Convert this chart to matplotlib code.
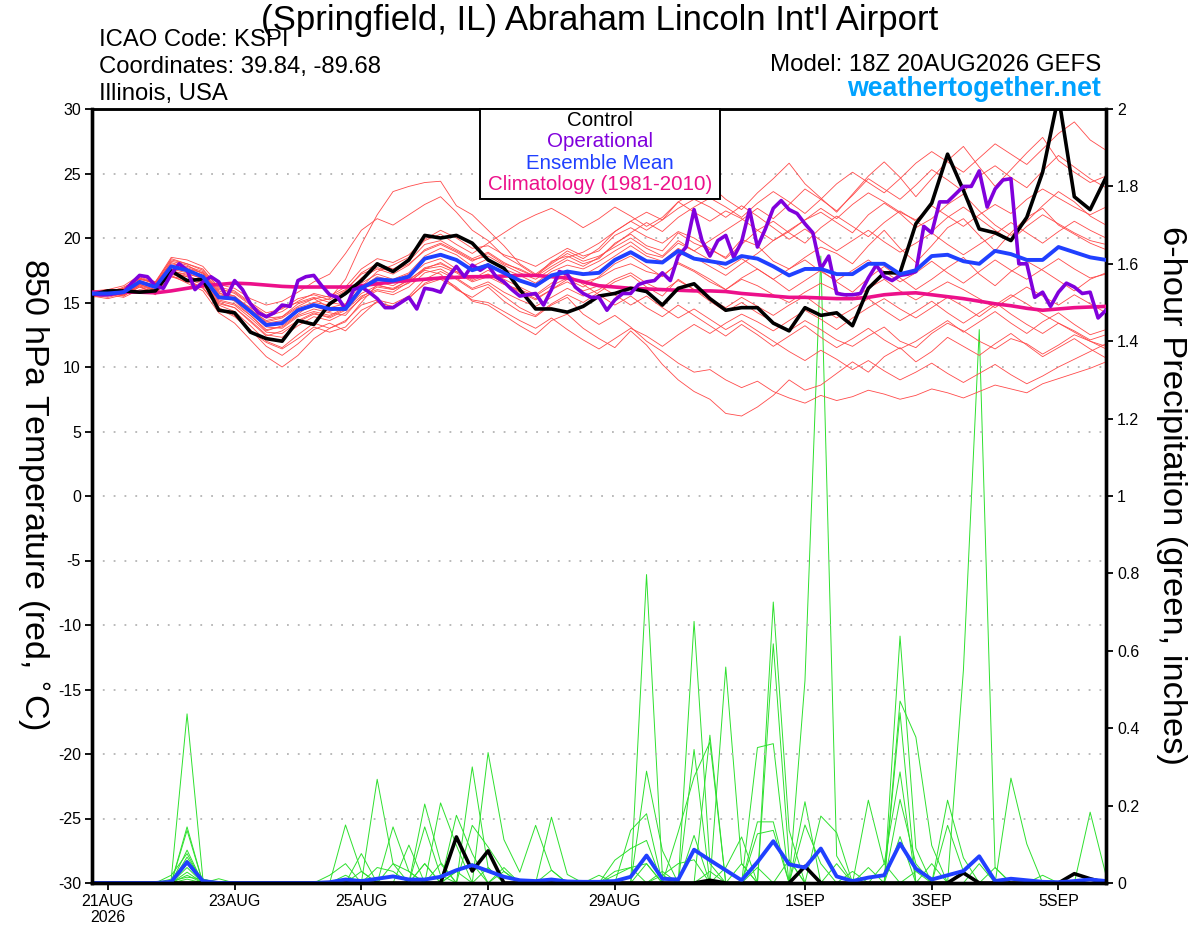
import numpy as np
import matplotlib.pyplot as plt
from matplotlib.patches import Rectangle

plt.rcParams['font.family'] = ['Liberation Sans', 'DejaVu Sans']
plt.rcParams['axes.unicode_minus'] = False

################################################
#           donnees                            #
################################################

# forecast hours from 18Z 20AUG2026 (6-hourly ensemble, 3-hourly operational)
hours = np.arange(65) * 6
op_hours = np.arange(129) * 3

tick_hours = [6, 54, 102, 150, 198, 270, 318, 366]
tick_labels = ['21AUG\n2026', '23AUG', '25AUG', '27AUG', '29AUG', '1SEP', '3SEP', '5SEP']

control_t = [15.6, 15.9, 15.9, 15.8, 15.9, 17.45, 16.7, 16.8, 14.4, 14.2, 12.7, 12.2, 12.0,
             13.6, 13.3, 14.9, 15.7, 16.7, 18.0, 17.4, 18.3, 20.2, 20.0, 20.2, 19.6, 18.3,
             17.65, 16.0, 14.5, 14.5, 14.25, 14.7, 15.5, 15.7, 16.1, 15.85, 14.8, 16.1, 16.45,
             15.3, 14.4, 14.6, 14.6, 13.4, 12.8, 14.6, 14.0, 14.2, 13.2, 16.1, 17.3, 17.3,
             21.1, 22.7, 26.5, 23.7, 20.7, 20.4, 19.8, 21.6, 25.1, 31.0, 23.2, 22.2, 24.7]

mean_t = [15.7, 15.7, 15.8, 16.6, 16.2, 17.8, 17.5, 17.0, 15.4, 15.3, 14.3, 13.25, 13.4,
          14.4, 14.8, 14.5, 14.5, 16.1, 16.8, 16.7, 17.0, 18.4, 18.7, 18.3, 17.5, 17.9,
          17.3, 16.7, 16.3, 17.1, 17.4, 17.2, 17.3, 18.3, 18.9, 18.2, 18.1, 19.0, 18.4,
          18.2, 18.0, 18.6, 18.4, 17.8, 17.1, 17.6, 17.6, 17.2, 17.2, 18.0, 18.0, 17.2,
          17.5, 18.6, 18.7, 18.2, 18.0, 19.0, 18.75, 18.3, 18.3, 19.3, 18.9, 18.5, 18.3]

clim_t = [15.8, 15.8, 15.8, 15.8, 15.75, 15.9, 16.1, 16.3, 16.4, 16.5, 16.45, 16.35, 16.25,
          16.2, 16.2, 16.2, 16.2, 16.3, 16.45, 16.6, 16.7, 16.8, 16.9, 16.95, 17.0, 17.0,
          17.05, 17.1, 17.1, 17.0, 16.9, 16.6, 16.3, 16.2, 16.1, 16.05, 16.0, 15.95, 15.9,
          15.9, 15.85, 15.7, 15.6, 15.5, 15.4, 15.4, 15.35, 15.3, 15.3, 15.4, 15.6, 15.7,
          15.75, 15.6, 15.45, 15.3, 15.1, 14.9, 14.75, 14.55, 14.4, 14.5, 14.6, 14.65, 14.7]

oper_t = [15.7, 15.6, 15.6, 15.7, 15.8, 16.5, 17.1, 17.0, 16.3, 16.1, 17.2, 18.0, 17.5,
          16.0, 16.6, 17.0, 16.6, 15.4, 16.7, 16.0, 14.9, 14.2, 13.9, 14.2, 14.8, 14.7,
          16.7, 17.0, 17.1, 16.3, 15.6, 15.4, 14.5, 16.0, 16.2, 15.8, 15.3, 14.6, 14.6,
          15.0, 15.4, 14.5, 16.1, 16.0, 15.8, 17.0, 17.8, 17.0, 17.9, 17.5, 17.9, 17.0,
          16.6, 16.0, 15.5, 15.6, 15.7, 14.8, 16.0, 17.4, 17.2, 16.2, 15.7, 15.4, 15.4,
          14.4, 15.2, 15.7, 15.7, 16.4, 16.6, 16.7, 17.3, 16.7, 18.6, 19.3, 22.2, 19.8,
          18.6, 19.8, 20.2, 18.5, 19.7, 22.2, 19.3, 20.7, 22.3, 22.9, 22.2, 21.9, 21.1,
          20.4, 17.6, 18.6, 15.7, 15.6, 15.6, 15.7, 16.9, 17.9, 17.0, 16.7, 17.1, 17.2,
          17.4, 20.9, 20.4, 22.8, 22.8, 23.4, 24.0, 24.0, 25.2, 22.4, 23.8, 24.5, 24.6,
          18.0, 18.0, 15.4, 15.8, 14.7, 15.8, 16.5, 16.2, 15.7, 15.8, 13.8, 14.4]

members_t = [
    [15.9, 15.6, 16.0, 16.9, 16.4, 18.2, 17.9, 17.2, 15.8, 15.1, 14.0, 12.8, 13.2,
     14.1, 15.0, 15.3, 16.8, 19.5, 21.8, 23.6, 24.0, 24.3, 24.4, 22.5, 21.8, 20.6,
     19.4, 18.0, 17.2, 18.1, 19.0, 18.4, 19.2, 20.5, 21.3, 22.0, 21.4, 22.8, 23.5,
     24.1, 23.0, 22.2, 23.5, 24.6, 25.8, 24.2, 23.1, 22.0, 23.4, 24.8, 25.9, 24.7,
     23.2, 24.6, 26.0, 27.1, 25.5, 24.0, 25.3, 26.6, 27.8, 26.0, 25.1, 24.3, 24.8],
    [15.5, 15.3, 15.6, 16.2, 15.8, 17.0, 16.8, 16.1, 14.6, 14.0, 12.9, 11.6, 10.9,
     11.8, 12.9, 13.4, 12.8, 14.0, 15.1, 14.6, 15.3, 16.5, 17.0, 16.2, 15.1, 14.8,
     14.0, 13.2, 12.5, 13.6, 14.1, 13.0, 12.2, 11.5, 12.8, 11.7, 10.2, 9.0, 8.1,
     7.5, 6.4, 6.2, 6.9, 7.8, 9.0, 8.2, 8.6, 9.5, 10.4, 9.6, 10.8, 11.5,
     10.4, 11.2, 12.3, 11.6, 10.9, 11.8, 12.6, 11.7, 10.8, 11.5, 12.2, 11.4, 10.7],
    [15.7, 15.9, 15.5, 16.4, 16.0, 17.5, 17.1, 16.6, 15.0, 14.6, 13.5, 12.4, 12.8,
     13.6, 14.2, 13.8, 14.4, 15.5, 16.0, 15.8, 16.6, 17.5, 17.2, 16.0, 15.4, 16.2,
     15.1, 14.3, 13.9, 14.8, 15.4, 14.1, 13.3, 14.0, 13.1, 12.0, 11.2, 10.3, 9.6,
     9.8, 9.0, 8.4, 8.9, 8.1, 7.6, 7.2, 7.8, 7.4, 7.7, 8.2, 7.9, 7.5,
     7.8, 8.3, 8.0, 7.6, 8.1, 8.6, 8.3, 8.0, 8.7, 9.1, 9.5, 9.9, 10.4],
    [15.8, 15.9, 16.1, 17.0, 16.5, 18.4, 18.0, 17.5, 16.2, 15.9, 15.0, 14.2, 14.5,
     15.3, 15.6, 15.2, 15.9, 17.3, 18.0, 17.6, 18.2, 19.5, 19.8, 19.1, 18.4, 18.9,
     18.1, 17.5, 17.0, 18.2, 18.6, 18.0, 18.4, 19.6, 20.3, 19.4, 19.0, 20.4, 19.6,
     19.1, 18.5, 19.9, 19.4, 18.2, 17.6, 18.5, 19.3, 18.8, 18.0, 19.4, 20.6, 19.2,
     18.1, 19.4, 20.8, 21.5, 20.2, 19.0, 20.4, 21.6, 22.3, 21.0, 20.3, 19.6, 19.1],
    [15.4, 15.6, 15.4, 16.0, 15.9, 17.2, 16.8, 16.4, 14.8, 14.3, 13.2, 12.0, 11.5,
     12.5, 13.4, 13.0, 13.6, 14.8, 15.2, 14.9, 15.5, 16.8, 17.4, 16.8, 16.0, 16.4,
     15.5, 14.6, 14.0, 14.9, 15.6, 15.0, 15.8, 16.6, 17.1, 16.2, 15.5, 16.8, 16.0,
     15.1, 14.3, 15.0, 14.2, 13.5, 12.8, 13.6, 12.9, 12.1, 11.6, 12.4, 13.1, 12.0,
     11.5, 12.6, 13.4, 12.8, 12.0, 11.4, 12.2, 11.8, 11.0, 11.7, 12.5, 12.0, 11.4],
    [15.9, 15.7, 16.2, 16.8, 16.5, 18.0, 17.8, 17.4, 16.0, 15.8, 14.9, 14.0, 14.6,
     15.0, 15.4, 15.0, 14.8, 16.2, 17.4, 17.9, 18.5, 19.8, 20.3, 19.5, 18.8, 19.6,
     20.4, 21.2, 21.8, 22.3, 21.6, 20.8, 21.5, 22.4, 21.7, 20.9, 21.6, 22.8, 22.0,
     21.3, 22.1, 21.5, 20.6, 19.8, 20.5, 21.4, 22.0, 21.2, 20.4, 21.8, 22.7, 21.9,
     20.8, 21.5, 22.6, 23.4, 22.1, 21.0, 20.2, 21.3, 22.5, 23.6, 22.8, 21.7, 21.0],
    [15.6, 15.4, 15.7, 16.3, 15.6, 17.1, 16.5, 15.9, 14.2, 13.4, 12.1, 10.8, 10.0,
     10.9, 12.2, 13.0, 13.5, 15.0, 16.4, 16.0, 16.8, 17.6, 18.1, 17.4, 16.9, 17.2,
     16.5, 15.8, 15.2, 16.0, 16.8, 16.2, 17.0, 18.0, 18.6, 17.8, 17.0, 18.1, 17.5,
     16.8, 16.0, 16.9, 17.6, 16.8, 15.9, 16.7, 17.5, 16.6, 15.8, 16.9, 17.8, 16.9,
     16.0, 16.8, 17.7, 18.5, 17.2, 16.3, 17.4, 18.2, 17.5, 16.7, 15.9, 16.8, 17.3],
    [15.7, 15.8, 16.0, 16.7, 16.3, 17.9, 17.6, 17.1, 15.6, 15.4, 14.6, 13.8, 13.9,
     14.9, 15.3, 14.6, 14.9, 16.5, 17.2, 16.8, 17.3, 18.6, 19.2, 18.7, 17.8, 18.4,
     17.6, 17.1, 16.5, 17.4, 17.9, 17.6, 18.2, 19.0, 19.7, 18.8, 18.5, 19.6, 19.0,
     19.8, 20.6, 21.4, 22.3, 21.5, 22.6, 23.8, 23.0, 22.1, 23.3, 24.6, 23.8, 23.0,
     24.1, 25.3, 24.5, 23.6, 24.8, 25.6, 24.7, 23.9, 25.2, 26.4, 25.5, 24.6, 23.9],
    [15.6, 15.5, 15.9, 16.5, 16.1, 17.6, 17.3, 16.8, 15.2, 14.9, 14.0, 12.9, 13.1,
     14.0, 14.5, 14.2, 14.0, 15.4, 16.2, 16.0, 16.5, 17.6, 17.8, 17.3, 16.6, 17.0,
     16.4, 16.0, 15.5, 16.3, 16.9, 16.6, 16.9, 17.6, 18.0, 17.4, 17.1, 18.0, 17.4,
     16.6, 16.0, 16.8, 16.3, 15.6, 15.0, 15.8, 16.5, 15.9, 15.2, 16.1, 16.8, 15.9,
     15.2, 15.9, 16.6, 16.0, 15.3, 14.6, 15.4, 16.2, 15.5, 14.8, 15.6, 14.9, 14.2],
    [15.8, 16.0, 15.8, 16.6, 16.4, 17.8, 17.6, 17.3, 15.9, 15.5, 14.4, 13.6, 13.9,
     14.7, 15.3, 15.5, 16.2, 17.6, 18.4, 18.1, 18.7, 19.9, 20.6, 20.0, 19.2, 19.4,
     18.7, 18.3, 17.8, 18.5, 19.2, 18.6, 19.0, 20.2, 20.8, 20.1, 19.6, 20.5, 20.0,
     19.2, 18.4, 19.5, 20.6, 21.3, 20.4, 19.6, 20.8, 21.7, 20.9, 20.1, 21.2, 22.1,
     21.3, 20.5, 21.6, 22.4, 21.5, 20.6, 19.8, 20.9, 21.8, 21.1, 20.4, 19.8, 19.5],
    [15.5, 15.7, 15.6, 16.4, 16.0, 17.4, 17.2, 16.9, 15.3, 15.2, 14.2, 13.1, 13.0,
     13.9, 14.3, 14.0, 14.6, 16.0, 16.6, 16.3, 17.0, 18.0, 18.4, 17.6, 16.8, 17.5,
     16.8, 16.2, 15.6, 16.5, 17.2, 16.4, 15.6, 14.8, 15.5, 14.6, 13.9, 14.8, 14.0,
     13.2, 12.4, 13.3, 12.5, 11.6, 12.4, 13.2, 12.3, 11.5, 12.2, 13.0, 12.1, 11.4,
     12.0, 12.8, 13.6, 12.7, 13.5, 14.3, 13.4, 12.6, 13.5, 14.2, 13.3, 12.5, 12.9],
    [15.9, 16.0, 16.3, 17.1, 16.6, 18.5, 18.3, 17.8, 16.4, 16.1, 15.3, 14.8, 15.1,
     15.8, 16.6, 17.2, 18.8, 20.6, 21.5, 21.0, 21.8, 22.6, 23.2, 22.0, 20.6, 19.8,
     18.6, 17.9, 17.1, 18.0, 18.8, 18.2, 18.6, 19.3, 20.0, 19.2, 18.6, 19.8, 19.0,
     18.3, 17.6, 18.4, 17.6, 16.8, 17.6, 18.3, 17.4, 16.7, 17.5, 18.3, 17.4, 16.6,
     17.3, 18.2, 17.3, 16.5, 17.4, 18.3, 17.5, 16.8, 17.6, 18.4, 17.6, 16.9, 17.2],
    [15.7, 15.6, 15.9, 16.5, 16.3, 17.7, 17.4, 17.0, 15.5, 15.3, 14.3, 13.4, 13.6,
     14.3, 14.7, 14.3, 14.8, 16.2, 17.0, 16.7, 17.2, 18.3, 18.8, 18.2, 17.6, 18.0,
     17.3, 16.7, 16.2, 17.0, 17.5, 17.1, 17.8, 18.6, 19.4, 18.6, 18.2, 19.2, 18.5,
     17.8, 17.1, 18.0, 18.8, 19.8, 20.6, 21.4, 22.3, 21.5, 22.6, 23.5, 22.8, 22.0,
     21.4, 22.5, 21.7, 20.9, 21.8, 22.6, 21.9, 23.0, 23.8, 23.1, 22.4, 21.8, 22.4],
    [15.6, 15.8, 15.6, 16.3, 15.9, 17.3, 17.0, 16.5, 14.9, 14.6, 13.6, 12.5, 12.3,
     13.2, 13.9, 13.6, 14.2, 15.3, 15.9, 15.6, 16.2, 17.3, 17.6, 16.9, 16.1, 16.6,
     15.8, 15.2, 14.7, 15.4, 16.1, 15.5, 16.0, 16.8, 17.3, 16.5, 15.9, 16.7, 16.0,
     15.3, 14.6, 15.4, 14.7, 14.0, 14.8, 15.5, 14.6, 13.8, 14.5, 15.3, 14.4, 13.6,
     14.3, 15.1, 14.2, 13.4, 14.2, 15.0, 14.1, 13.3, 12.6, 13.4, 12.7, 12.0, 11.6],
    [15.8, 15.9, 16.1, 16.8, 16.6, 18.3, 18.0, 17.6, 16.1, 15.7, 14.8, 13.9, 14.3,
     15.1, 15.7, 15.4, 16.0, 17.2, 17.7, 17.4, 18.0, 19.0, 19.5, 18.9, 18.2, 18.8,
     18.0, 17.6, 17.0, 17.8, 18.5, 18.9, 19.6, 20.5, 21.3, 20.6, 21.4, 22.3, 23.0,
     22.4, 21.6, 22.5, 21.7, 20.8, 19.9, 20.7, 19.8, 19.0, 19.8, 20.6, 19.7, 18.9,
     19.6, 20.4, 19.5, 18.7, 19.5, 20.3, 21.2, 20.4, 19.6, 20.5, 21.3, 20.6, 20.0],
    [15.5, 15.6, 15.8, 16.4, 15.9, 17.4, 17.0, 16.7, 15.1, 14.8, 13.8, 12.7, 12.6,
     13.5, 14.1, 13.9, 14.5, 15.7, 16.3, 16.1, 16.7, 17.7, 18.0, 17.4, 16.7, 17.2,
     16.5, 15.9, 15.3, 16.0, 16.6, 15.9, 16.3, 15.6, 14.8, 15.5, 14.6, 13.8, 14.5,
     13.7, 12.9, 13.6, 12.8, 12.0, 11.2, 10.5, 11.3, 10.6, 9.8, 10.5, 9.7, 9.0,
     9.6, 10.3, 9.5, 8.8, 9.5, 10.2, 9.4, 8.7, 9.3, 10.0, 10.6, 11.2, 11.8],
    [15.8, 15.7, 16.0, 16.9, 16.5, 18.1, 17.7, 17.3, 15.7, 15.5, 14.5, 13.5, 13.8,
     14.6, 15.0, 14.8, 15.6, 16.9, 17.6, 17.2, 17.9, 19.1, 19.6, 19.0, 18.3, 18.6,
     17.9, 17.3, 16.8, 17.6, 18.3, 17.8, 18.5, 19.5, 20.4, 21.2, 20.5, 21.6, 22.4,
     23.1, 22.4, 21.6, 22.7, 23.6, 22.8, 21.9, 23.0, 24.2, 25.1, 24.3, 23.5, 24.6,
     25.8, 26.7, 25.9, 25.1, 26.2, 27.3, 26.5, 25.7, 26.9, 28.1, 29.0, 27.6, 26.8],
    [15.6, 15.7, 15.5, 16.2, 15.7, 17.0, 16.6, 16.2, 14.5, 13.9, 12.8, 11.9, 11.4,
     12.2, 13.1, 12.7, 13.1, 14.4, 15.0, 14.7, 15.4, 16.4, 16.8, 16.1, 15.2, 15.0,
     14.3, 13.6, 13.0, 13.8, 12.9, 12.1, 11.4, 12.2, 13.0, 12.4, 11.6, 12.5, 13.3,
     12.6, 13.4, 14.1, 13.5, 12.8, 13.6, 14.4, 13.7, 12.9, 13.8, 14.6, 15.3, 14.5,
     13.8, 14.6, 15.4, 14.7, 13.9, 14.8, 15.6, 14.9, 14.1, 13.4, 12.8, 12.1, 12.5],
]

# 6-hour precipitation (inches)
control_p = {23: 0.119, 24: 0.031, 25: 0.083, 39: 0.007, 45: 0.043,
             55: 0.026, 62: 0.024, 63: 0.011}

mean_p = [0, 0, 0, 0, 0, 0.003, 0.054, 0.005, 0, 0, 0, 0, 0,
          0, 0, 0.002, 0.009, 0.005, 0.011, 0.017, 0.009, 0.009, 0.016, 0.033, 0.046, 0.031,
          0.016, 0.007, 0.005, 0.009, 0.004, 0.003, 0.003, 0.005, 0.016, 0.071, 0.011, 0.009, 0.086,
          0.059, 0.033, 0.007, 0.054, 0.108, 0.048, 0.04, 0.089, 0.017, 0.005, 0.014, 0.02, 0.102,
          0.037, 0.009, 0.02, 0.031, 0.069, 0.005, 0.011, 0.007, 0.003, 0.002, 0.005, 0.009, 0.005]

members_p = [
    {5: .01, 6: .437, 7: .01, 21: .05, 35: .797, 36: .02, 45: .523, 46: 1.62, 47: .07},
    {6: .145, 16: .15, 17: .03, 24: .30, 25: .04, 38: .676, 39: .05, 55: .55, 56: 1.43, 57: .04},
    {6: .136, 18: .268, 19: .05, 29: .17, 30: .022, 40: .558, 41: .05, 51: .638, 52: .09},
    {6: .085, 17: .076, 21: .204, 22: .054, 35: .289, 36: .084, 43: .726, 44: .136, 58: .271, 59: .101},
    {5: .02, 6: .076, 19: .145, 20: .03, 25: .337, 26: .112, 27: .028, 28: .149, 29: .033,
     39: .382, 43: .618, 44: .06, 51: .47, 52: .377, 53: .097},
    {6: .067, 7: .005, 20: .098, 22: .207, 23: .097, 38: .345, 42: .35, 43: .36, 51: .44, 63: .183, 64: .02},
    {6: .059, 23: .175, 24: .076, 34: .136, 35: .179, 37: .132, 38: .274, 39: .364, 45: .21, 54: .214, 55: .065},
    {6: .05, 8: .011, 24: .149, 25: .093, 26: .03, 33: .059, 34: .089, 35: .110, 42: .158, 43: .158,
     49: .214, 50: .05, 51: .287},
    {6: .04, 15: .02, 16: .05, 21: .145, 22: .02, 33: .03, 34: .04, 35: .05, 42: .127, 43: .136,
     46: .173, 47: .13, 54: .149, 55: .03},
    {6: .028, 18: .04, 19: .03, 23: .03, 26: .03, 38: .123, 40: .04, 41: .119, 49: .04, 51: .216, 52: .05},
    {5: .005, 6: .015, 7: .01, 21: .05, 32: .02, 36: .02, 37: .05, 38: .06, 45: .15, 46: .05,
     48: .03, 51: .12, 60: .02},
    {6: .01, 19: .05, 20: .03, 25: .04, 29: .033, 35: .05, 41: .05, 44: .06, 50: .05, 53: .05, 57: .04},
    {6: .02, 17: .03, 23: .03, 24: .05, 33: .02, 34: .04, 39: .03, 47: .05, 56: .05},
    {16: .02, 22: .05, 26: .04, 36: .03, 42: .04, 52: .03, 55: .03},
]


def sparse(d):
    arr = np.zeros(len(hours))
    for k, v in d.items():
        arr[k] = v
    return arr


################################################
#           graphique                          #
################################################

fig = plt.figure(figsize=(12, 9.27), dpi=100)
ax = fig.add_axes([92 / 1200, 44 / 927, 1014 / 1200, 774 / 927])
ax2 = ax.twinx()
ax.set_zorder(2)
ax.patch.set_visible(False)

red = '#ff4a4a'
green = '#2ee02e'
purple = '#8000dc'
blue = '#2040ff'
magenta = '#ec108a'

# precipitation (right axis)
for m in members_p:
    ax2.plot(hours, sparse(m), color=green, lw=0.7)
ax2.plot(hours, sparse(control_p), color='black', lw=2.6)
ax2.plot(hours, mean_p, color=blue, lw=2.8)

# temperature (left axis)
for m in members_t:
    ax.plot(hours, m, color=red, lw=0.6)
ax.plot(hours, clim_t, color=magenta, lw=2.6, zorder=3)
ax.plot(hours, control_t, color='black', lw=2.6, zorder=4)
ax.plot(op_hours, oper_t, color=purple, lw=2.6, zorder=5)
ax.plot(hours, mean_t, color=blue, lw=2.8, zorder=6)

ax.set_xlim(0, 384)
ax.set_ylim(-30, 30)
ax2.set_ylim(0, 2)

for y in range(-25, 30, 5):
    ax.axhline(y, color='#b4b4b4', lw=1.3, ls=(0, (1, 5)), zorder=0)

ax.set_yticks(range(-30, 31, 5))
ax.set_yticklabels([str(v) for v in range(-30, 31, 5)], fontsize=11.5)
ax2.set_yticks(np.arange(0, 2.01, 0.2))
ax2.set_yticklabels(['%g' % v for v in np.round(np.arange(0, 2.01, 0.2), 1)], fontsize=11.5)
ax.set_xticks(tick_hours)
ax.set_xticklabels(tick_labels, fontsize=11.5, linespacing=1.05)
ax.tick_params(axis='both', direction='out', length=5, width=1.3, pad=3)
ax2.tick_params(axis='y', direction='out', length=5, width=1.3, pad=3)

for a in (ax, ax2):
    for s in ('left', 'right'):
        a.spines[s].set_linewidth(2.4)
    a.spines['top'].set_linewidth(1.8)
    a.spines['bottom'].set_linewidth(2.4)

# legend box
fig.patches.append(Rectangle((480 / 1200, 1 - 199 / 927), 240 / 1200, 90 / 927,
                             transform=fig.transFigure, facecolor='white',
                             edgecolor='black', lw=1.4, zorder=10))
leg_items = [('Control', 'black'), ('Operational', purple),
             ('Ensemble Mean', blue), ('Climatology (1981-2010)', magenta)]
for k, (txt, c) in enumerate(leg_items):
    fig.text(600 / 1200, 1 - (120 + k * 21.6) / 927, txt, color=c, fontsize=14.8,
             ha='center', va='center', zorder=11)

# titles
fig.text(0.5, 1 - 30 / 927, "(Springfield, IL) Abraham Lincoln Int'l Airport",
         fontsize=25, ha='center', va='baseline')
fig.text(99 / 1200, 1 - 46 / 927, 'ICAO Code: KSPI', fontsize=17.2, va='baseline')
fig.text(99 / 1200, 1 - 73 / 927, 'Coordinates: 39.84, -89.68', fontsize=17.2, va='baseline')
fig.text(99 / 1200, 1 - 100 / 927, 'Illinois, USA', fontsize=17.2, va='baseline')
fig.text(1101 / 1200, 1 - 71 / 927, 'Model: 18Z 20AUG2026 GEFS', fontsize=17.3,
         ha='right', va='baseline')
fig.text(1101 / 1200, 1 - 96 / 927, 'weathertogether.net', fontsize=19.3,
         fontweight='bold', color='#00a2ff', ha='right', va='baseline')

fig.text(32 / 1200, 1 - 494 / 927, '850 hPa Temperature (red, $^{\\circ}$C)',
         fontsize=24.5, rotation=270, ha='center', va='center')
fig.text(1172 / 1200, 1 - 495 / 927, '6-hour Precipitation (green, inches)',
         fontsize=24.8, rotation=270, ha='center', va='center')

fig.savefig('out.png', dpi=100)
